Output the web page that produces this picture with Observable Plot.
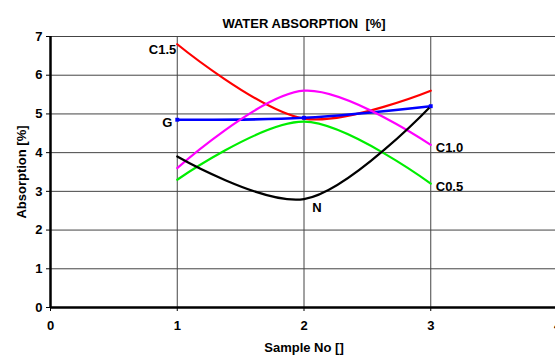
<!DOCTYPE html>
<html>
<head>
<meta charset="utf-8">
<script src="https://cdn.jsdelivr.net/npm/d3@7"></script>
<script src="https://cdn.jsdelivr.net/npm/@observablehq/plot@0.6"></script>
<style>
  html, body { margin: 0; padding: 0; background: #fff; }
  svg text { white-space: pre; }
</style>
</head>
<body>
<div id="chart"></div>
<script>
const samples = [1, 2, 3];
const seriesNames = ["C1.5", "G", "C1.0", "C0.5", "N"];
const seriesColors = ["#ff0000", "#0000ff", "#ff00ff", "#00ee00", "#000000"];
const valuesC15 = [6.8, 4.88, 5.6];
const valuesG = [4.85, 4.9, 5.2];
const valuesC10 = [3.6, 5.6, 4.2];
const valuesC05 = [3.3, 4.8, 3.2];
const valuesN = [3.9, 2.8, 5.2];
const xTicks = [0, 1, 2, 3, 4];
const yTicks = [0, 1, 2, 3, 4, 5, 6, 7];
const titleText = "WATER ABSORPTION  [%]";
const xLabel = "Sample No []";
const yLabel = "Absorption [%]";

const allValues = [valuesC15, valuesG, valuesC10, valuesC05, valuesN];
const rows = [];
seriesNames.forEach((name, i) => {
  samples.forEach((s, j) => rows.push({series: name, x: s, y: allValues[i][j]}));
});
const byName = name => rows.filter(r => r.series === name);

// label anchors: series, sample index, placement
const labelSpecs = [
  {series: "C1.5", idx: 0, anchor: "end", dx: -1, dy: 6},
  {series: "G", idx: 0, anchor: "end", dx: -5, dy: 3},
  {series: "C1.0", idx: 2, anchor: "start", dx: 5, dy: 3},
  {series: "C0.5", idx: 2, anchor: "start", dx: 5, dy: 3},
  {series: "N", idx: 1, anchor: "middle", dx: 13, dy: 9}
];

const font = "Liberation Sans, Arial, sans-serif";
const fs = 13;

const lineMarks = seriesNames.map((name, i) =>
  Plot.line(byName(name), {x: "x", y: "y", stroke: seriesColors[i], strokeWidth: name === "G" ? 2.6 : 2.2, curve: "catmull-rom"})
);
const labelMarks = labelSpecs.map(l =>
  Plot.text([byName(l.series)[l.idx]], {x: "x", y: "y", text: "series", textAnchor: l.anchor, dx: l.dx, dy: l.dy, fontSize: fs, fontWeight: "bold", fill: "#000"})
);

const chart = Plot.plot({
  width: 555,
  height: 355,
  marginLeft: 50,
  marginRight: -2,
  marginTop: 36,
  marginBottom: 48,
  style: {fontFamily: font, fontSize: fs + "px", fontWeight: "bold", background: "#fff", color: "#000"},
  x: {domain: [0, 4], range: [50, 557]},
  y: {domain: [0, 7], range: [307, 36]},
  marks: [
    Plot.ruleY(yTicks.filter(d => d > 0), {stroke: "#444", strokeWidth: 1}),
    Plot.ruleX(xTicks.filter(d => d > 0), {stroke: "#444", strokeWidth: 1}),
    Plot.axisY({ticks: yTicks, tickSize: 4, tickPadding: 4, tickFormat: d => String(d), label: null, fontSize: fs, fontWeight: "bold"}),
    Plot.axisX({ticks: xTicks, tickSize: 4, tickPadding: 9, tickFormat: d => String(d), label: null, fontSize: fs, fontWeight: "bold"}),
    Plot.ruleX([0], {stroke: "#000", strokeWidth: 2.5}),
    Plot.ruleY([0], {stroke: "#000", strokeWidth: 2.5}),
    ...lineMarks,
    Plot.dot(byName("G"), {x: "x", y: "y", symbol: "square", r: 2.2, fill: "#0000ff", stroke: "none"}),
    ...labelMarks,
    Plot.text([titleText], {frameAnchor: "top", textAnchor: "middle", dy: -18, fontSize: fs, fontWeight: "bold", fill: "#000"}),
    Plot.text([xLabel], {frameAnchor: "bottom", textAnchor: "middle", dy: 44, fontSize: fs, fontWeight: "bold", fill: "#000"}),
    Plot.text([yLabel], {frameAnchor: "left", textAnchor: "middle", dx: -29, rotate: -90, fontSize: fs, fontWeight: "bold", fill: "#000"})
  ]
});
document.getElementById("chart").appendChild(chart);
</script>
</body>
</html>
